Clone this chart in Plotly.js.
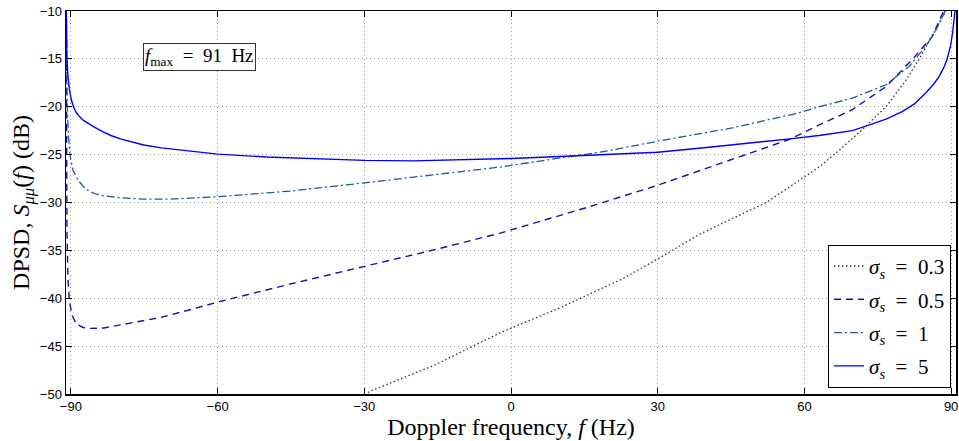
<!DOCTYPE html>
<html>
<head>
<meta charset="utf-8">
<script src="https://cdn.plot.ly/plotly-3.0.1.min.js"></script>
<style>html,body{margin:0;padding:0;background:#fff;}#chart{width:959px;height:441px;}</style>
</head>
<body>
<div id="chart"></div>
<script>
// Doppler frequency (Hz) and DPSD (dB) for each sigma_s
const f_s03 = [-30.5, -28.8, -15.9, -2.2, 10, 22.9, 30, 38.6, 52.2, 58.3, 63, 67, 71.8, 76.7, 80.8, 83.5, 85.5, 87.6, 88.6, 89.5];
const psd_s03 = [-50.4, -49.7, -47.05, -43.6, -41.0, -37.95, -35.9, -33.3, -30.0, -27.9, -26.3, -24.6, -22.4, -20.0, -17.2, -15.0, -13.2, -11.3, -10.3, -9.3];

const f_s05 = [-90.98, -90.9, -90.8, -90.6, -90.3, -89.8, -88.9, -87.5, -86, -83.2, -78.4, -71.6, -64.9, -60, -45, -30, -15, -2.2, 15, 30, 45.3, 57, 63, 69.8, 76.7, 82, 86.1, 88.2, 88.9];
const psd_s05 = [-8, -25, -33, -38, -40.3, -41.7, -42.7, -43.05, -43.15, -43.1, -42.65, -42.0, -41.1, -40.4, -38.5, -36.7, -34.85, -33.2, -30.6, -28.2, -25.5, -23.4, -21.9, -20.3, -17.9, -15.1, -12.7, -10.4, -9.5];

const f_s1 = [-90.97, -90.9, -90.75, -90.5, -90.2, -89.6, -88.5, -87.3, -86.2, -85, -83.3, -80, -75, -70, -65, -60, -52.6, -45, -30, -15, -2.2, 10, 18.2, 30, 45.3, 58.4, 63, 69.8, 76.7, 81.4, 84.8, 86.9, 88.6, 89.3];
const psd_s1 = [-8, -15, -20, -23, -25, -26.6, -27.7, -28.4, -28.85, -29.1, -29.3, -29.5, -29.65, -29.65, -29.55, -29.4, -29.1, -28.8, -27.95, -27.1, -26.3, -25.35, -24.75, -23.6, -22.2, -20.7, -20.0, -19.1, -17.7, -15.8, -13.7, -12.0, -10.2, -9];

const f_s5 = [-90.98, -90.9, -90.8, -90.6, -90.3, -89.9, -89.4, -88.9, -88.3, -87.5, -86.5, -85.3, -83.5, -81.8, -79.9, -78, -75.1, -71.5, -68.2, -64, -60, -50, -43, -30, -20, -10, 0, 10, 20, 30, 40, 50, 57, 63, 69.8, 73.3, 76.7, 80, 82.5, 84.9, 86.5, 87.6, 88.6, 89.2, 89.9, 90.3, 90.6, 90.8, 90.95];
const psd_s5 = [-8, -12, -15, -16.8, -18.2, -19.3, -20.1, -20.6, -21.0, -21.4, -21.75, -22.1, -22.6, -23.0, -23.35, -23.6, -24.0, -24.3, -24.5, -24.75, -24.95, -25.25, -25.4, -25.6, -25.65, -25.55, -25.4, -25.2, -25.0, -24.75, -24.25, -23.75, -23.35, -23.0, -22.5, -21.9, -21.3, -20.5, -19.7, -18.5, -17.6, -16.8, -15.8, -15.0, -13.6, -12.3, -11.0, -10.0, -8];

const seriesNames = [
  '<i>σ</i><sub><i>s</i></sub>&nbsp;&nbsp;=&nbsp;&nbsp;0.3',
  '<i>σ</i><sub><i>s</i></sub>&nbsp;&nbsp;=&nbsp;&nbsp;0.5',
  '<i>σ</i><sub><i>s</i></sub>&nbsp;&nbsp;=&nbsp;&nbsp;1',
  '<i>σ</i><sub><i>s</i></sub>&nbsp;&nbsp;=&nbsp;&nbsp;5'
];
const xTicks = [-90, -60, -30, 0, 30, 60, 90];
const yTicks = [-50, -45, -40, -35, -30, -25, -20, -15, -10];
const annotationText = '<i>f</i><sub>max</sub>&nbsp;&nbsp;=&nbsp;&nbsp;91&nbsp;&nbsp;Hz';

const serif = 'Liberation Serif, Times New Roman, serif';
const sans = 'Liberation Sans, Arial, Helvetica, sans-serif';

const traces = [
  {x: f_s03, y: psd_s03, name: seriesNames[0], legendgroup: 'a', mode: 'lines',
   line: {color: '#333333', width: 1.3, dash: '1.5px,2.5px'}},
  {x: f_s05, y: psd_s05, name: seriesNames[1], legendgroup: 'b', mode: 'lines',
   line: {color: '#1212a8', width: 1.4, dash: '7px,5px'}},
  {x: f_s1, y: psd_s1, name: seriesNames[2], legendgroup: 'c', mode: 'lines',
   line: {color: '#1f5a96', width: 1.3, dash: '8px,3px,2px,3px'}},
  {x: f_s5, y: psd_s5, name: seriesNames[3], legendgroup: 'd', mode: 'lines',
   line: {color: '#0000ff', width: 1.4}}
];

const axisCommon = {
  showline: true, linecolor: '#000', linewidth: 1.5, mirror: 'ticks',
  ticks: 'inside', ticklen: 6, tickwidth: 1, tickcolor: '#000',
  showgrid: true, gridcolor: '#9a9a9a', gridwidth: 1, griddash: '1px,3px',
  zeroline: false, tickfont: {family: sans, size: 13, color: '#000'}
};

const layout = {
  width: 959, height: 441,
  margin: {l: 66, r: 3, t: 11, b: 47},
  paper_bgcolor: '#fff', plot_bgcolor: '#fff',
  showlegend: true,
  xaxis: Object.assign({}, axisCommon, {
    range: [-91, 91], tickvals: xTicks, ticktext: xTicks.map(v => (v < 0 ? '\u2212' + Math.abs(v) : String(v))),
    title: {text: 'Doppler frequency, <i>f</i> (Hz)', font: {family: serif, size: 24, color: '#000'}, standoff: 0}
  }),
  yaxis: Object.assign({}, axisCommon, {
    range: [-50, -10], tickvals: yTicks, ticktext: yTicks.map(v => (v < 0 ? '\u2212' + Math.abs(v) : String(v))),
    title: {text: 'DPSD, <i>S</i><sub><i>μμ</i></sub>(<i>f</i>) (dB)', font: {family: serif, size: 24, color: '#000'}, standoff: 3}
  }),
  legend: {
    x: 0.9944, xanchor: 'right', y: 0.016, yanchor: 'bottom',
    bgcolor: '#fff', bordercolor: '#000', borderwidth: 1,
    font: {family: serif, size: 21, color: '#000'},
    traceorder: 'grouped', tracegroupgap: 3
  },
  annotations: [{
    x: -63.6, y: -14.84, xref: 'x', yref: 'y', text: annotationText, showarrow: false,
    font: {family: serif, size: 19, color: '#000'},
    bordercolor: '#333', borderwidth: 1, borderpad: 1, bgcolor: '#fff'
  }]
};

Plotly.newPlot('chart', traces, layout, {displayModeBar: false, staticPlot: true});
</script>
</body>
</html>
